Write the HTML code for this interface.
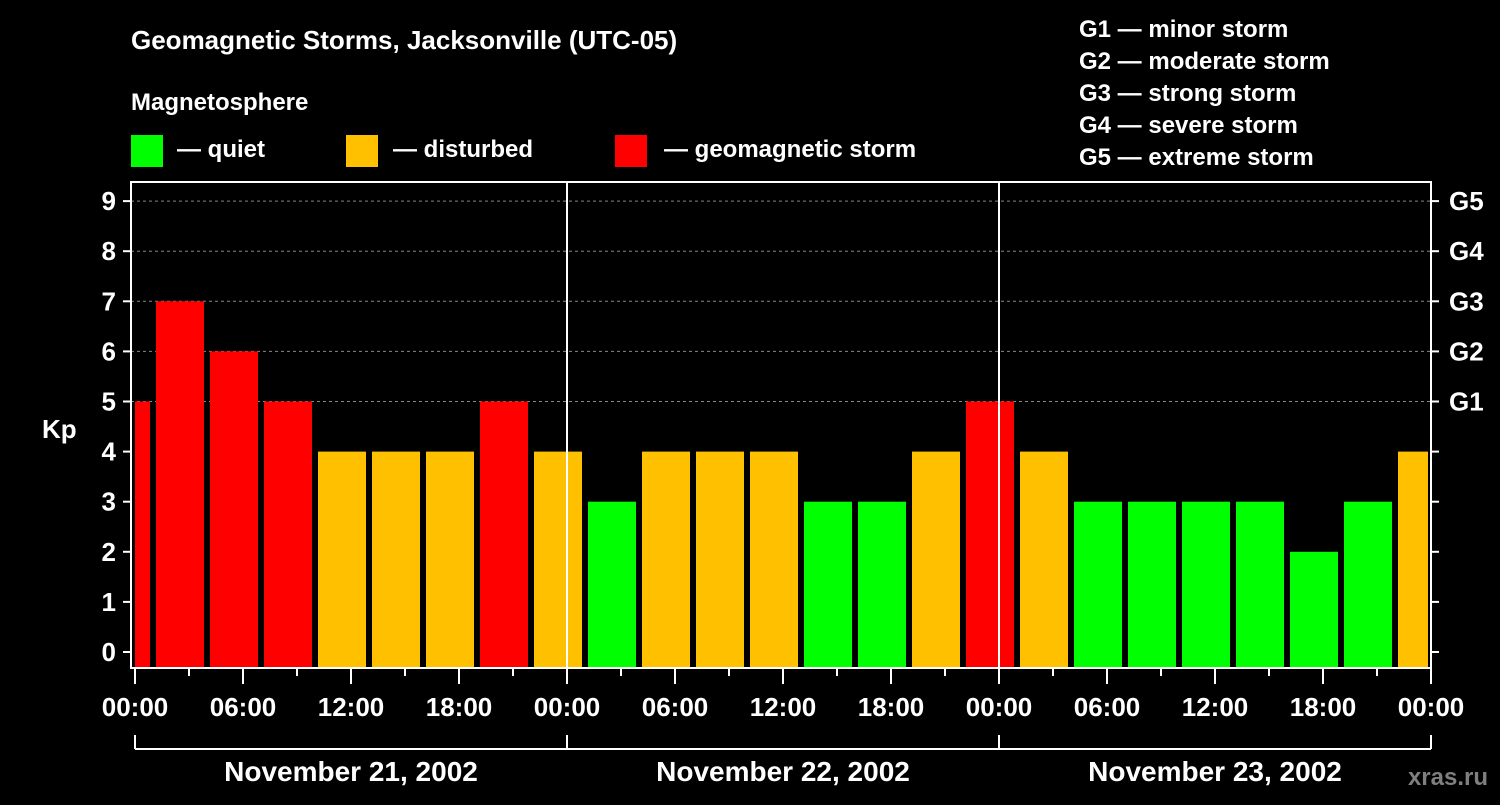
<!DOCTYPE html>
<html><head><meta charset="utf-8"><style>
html,body{margin:0;padding:0;background:#000;}
svg text{font-family:"Liberation Sans",sans-serif;font-weight:bold;fill:#fff;}
</style></head><body>
<svg id="chart" width="1500" height="800" xmlns="http://www.w3.org/2000/svg">
<rect width="1500" height="800" fill="#000"/>
<text x="131" y="49" font-size="26">Geomagnetic Storms, Jacksonville (UTC-05)</text>
<text x="131" y="110" font-size="24">Magnetosphere</text>
<g><rect x="131" y="135" width="32" height="32" fill="#00ff00"/><text x="177" y="157" font-size="24">— quiet</text></g>
<g><rect x="346" y="135" width="32" height="32" fill="#ffc000"/><text x="393" y="157" font-size="24">— disturbed</text></g>
<g><rect x="615" y="135" width="32" height="32" fill="#ff0000"/><text x="664" y="157" font-size="24">— geomagnetic storm</text></g>
<g font-size="24">
<text x="1079" y="37">G1 — minor storm</text>
<text x="1079" y="69">G2 — moderate storm</text>
<text x="1079" y="101">G3 — strong storm</text>
<text x="1079" y="133">G4 — severe storm</text>
<text x="1079" y="165">G5 — extreme storm</text>
</g>
<g id="grid"></g><g id="bars"></g><g id="axes"></g>
<text x="42" y="438" font-size="26">Kp</text>
<text x="1488" y="785" font-size="24" fill="#888" style="fill:#7f7f7f" text-anchor="end">xras.ru</text>
</svg>
<script>
const kpValues=[5,7,6,5,4,4,4,5,4,3,4,4,4,3,3,4,5,4,3,3,3,3,2,3,4];
const yTicks=[0,1,2,3,4,5,6,7,8,9];
const gLabels=['G1','G2','G3','G4','G5'];
const xLabels=['00:00','06:00','12:00','18:00','00:00','06:00','12:00','18:00','00:00','06:00','12:00','18:00','00:00'];
const dayLabels=['November 21, 2002','November 22, 2002','November 23, 2002'];
const NS='http://www.w3.org/2000/svg';
const L=131,R=1431,T=182,B=668,X0=135,PXH=18;
const y=v=>652-v*50.1;
const x=h=>X0+h*PXH;
function mk(tag,attrs,parent,txt){const e=document.createElementNS(NS,tag);for(const k in attrs)e.setAttribute(k,attrs[k]);if(txt!==undefined)e.textContent=txt;parent.appendChild(e);return e;}
const grid=document.getElementById('grid'),bars=document.getElementById('bars'),axes=document.getElementById('axes');
yTicks.forEach(v=>{if(v>=5){const g=mk('line',{x1:L,x2:R,y1:y(v),y2:y(v),stroke:'#888','stroke-dasharray':'3,3'},grid);

}});
kpValues.forEach((v,i)=>{const s=x(-2+3*i);let a=Math.max(s+3,X0),b=Math.min(s+51,R-3);if(b<=a)return;
const c=v>=5?'#ff0000':(v>=4?'#ffc000':'#00ff00');
const r=mk('rect',{x:a,y:y(v),width:b-a,height:667-y(v),fill:c},bars);

});
[24,48].forEach(h=>{const l=mk('line',{x1:x(h),x2:x(h),y1:T,y2:B,stroke:'#fff','stroke-width':2},axes);

});
const frame=mk('rect',{x:L,y:T,width:R-L,height:B-T,fill:'none',stroke:'#fff','stroke-width':2},axes);


yTicks.forEach(v=>{mk('line',{x1:L-8,x2:L,y1:y(v),y2:y(v),stroke:'#fff','stroke-width':2},axes);mk('line',{x1:R,x2:R+8,y1:y(v),y2:y(v),stroke:'#fff','stroke-width':2},axes);
const t=mk('text',{x:116,y:y(v)+9,'font-size':26,'text-anchor':'end'},axes,String(v));

});
gLabels.forEach((g,i)=>{const t=mk('text',{x:1449,y:y(5+i)+9,'font-size':26},axes,g);

});
for(let h=0;h<=72;h+=3){mk('line',{x1:x(h),x2:x(h),y1:B,y2:B+(h%6==0?16:8),stroke:'#fff','stroke-width':2},axes);}
xLabels.forEach((s,i)=>{const t=mk('text',{x:x(i*6),y:716,'font-size':26,'text-anchor':'middle'},axes,s);

});
mk('line',{x1:x(0),x2:x(72),y1:749,y2:749,stroke:'#fff','stroke-width':2},axes);
[0,24,48,72].forEach(h=>mk('line',{x1:x(h),x2:x(h),y1:735,y2:749,stroke:'#fff','stroke-width':2},axes));
dayLabels.forEach((s,i)=>{const t=mk('text',{x:x(i*24+12),y:781,'font-size':28,'text-anchor':'middle'},axes,s);

});
</script>
</body></html>
